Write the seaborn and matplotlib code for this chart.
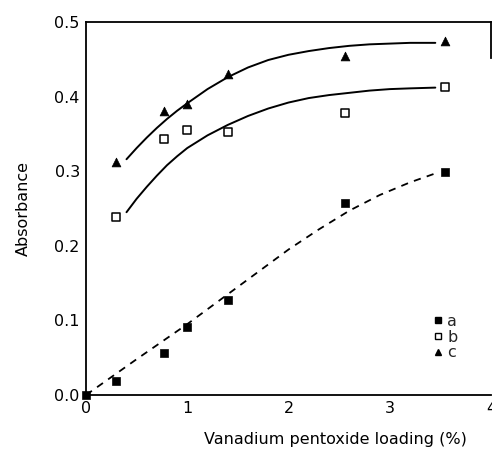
import matplotlib
matplotlib.use("Agg")
import matplotlib.pyplot as plt
import seaborn as sns
import pandas as pd
from matplotlib.lines import Line2D

sns.set_theme(style="white")
plt.rcParams['font.family'] = ['DejaVu Sans']

# measured points
loading = [0.0, 0.30, 0.77, 1.0, 1.40, 2.56, 3.55]
abs_a = [0.0, 0.019, 0.056, 0.091, 0.127, 0.257, 0.299]
loading_bc = [0.30, 0.77, 1.0, 1.40, 2.56, 3.55]
abs_b = [0.238, 0.343, 0.355, 0.352, 0.378, 0.413]
abs_c = [0.312, 0.380, 0.390, 0.430, 0.455, 0.475]

# fitted curves
curve_x_a = [0.0, 0.5, 1.0, 1.5, 2.0, 2.3, 2.6, 2.9, 3.2, 3.45]
curve_a = [0.0, 0.048, 0.095, 0.145, 0.195, 0.222, 0.247, 0.268, 0.285, 0.297]
curve_x_bc = [0.4, 0.5, 0.6, 0.7, 0.8, 0.9, 1.0, 1.2, 1.4, 1.6, 1.8, 2.0, 2.2,
              2.4, 2.6, 2.8, 3.0, 3.2, 3.45]
curve_b = [0.245, 0.263, 0.279, 0.294, 0.308, 0.320, 0.331, 0.348, 0.362, 0.374,
           0.384, 0.392, 0.398, 0.402, 0.405, 0.408, 0.410, 0.411, 0.412]
curve_c = [0.316, 0.331, 0.345, 0.358, 0.370, 0.381, 0.391, 0.410, 0.426, 0.439,
           0.449, 0.456, 0.461, 0.465, 0.468, 0.470, 0.471, 0.472, 0.472]

fig = plt.figure(figsize=(4.92, 4.5), dpi=100)
ax = fig.add_axes([0.1748, 0.1222, 0.8232, 0.829])

pa = pd.DataFrame({"x": loading, "y": abs_a})
pb = pd.DataFrame({"x": loading_bc, "y": abs_b})
pc = pd.DataFrame({"x": loading_bc, "y": abs_c})
ca = pd.DataFrame({"x": curve_x_a, "y": curve_a})
cb = pd.DataFrame({"x": curve_x_bc, "y": curve_b})
cc = pd.DataFrame({"x": curve_x_bc, "y": curve_c})

sns.lineplot(data=ca, x="x", y="y", ax=ax, color="black", lw=1.3, linestyle=(0, (4, 3.5)), sort=True)
sns.lineplot(data=cb, x="x", y="y", ax=ax, color="black", lw=1.4, sort=True)
sns.lineplot(data=cc, x="x", y="y", ax=ax, color="black", lw=1.4, sort=True)

sns.scatterplot(data=pa, x="x", y="y", ax=ax, marker="s", s=36, color="black", edgecolor="black", zorder=5, clip_on=False)
sns.scatterplot(data=pb, x="x", y="y", ax=ax, marker="s", s=36, facecolor="white", edgecolor="black", linewidth=1.1, zorder=5)
sns.scatterplot(data=pc, x="x", y="y", ax=ax, marker="^", s=40, color="black", edgecolor="black", zorder=5)

ax.set_xlim(0, 4)
ax.set_ylim(0, 0.5)
ax.set_xticks([0, 1, 2, 3, 4])
ax.set_xticklabels(["0", "1", "2", "3", "4"])
ax.set_yticks([0.0, 0.1, 0.2, 0.3, 0.4, 0.5])
ax.set_yticklabels(["0.0", "0.1", "0.2", "0.3", "0.4", "0.5"])
ax.tick_params(axis="both", direction="inout", length=5, width=1, color="black",
               labelsize=11.5, labelcolor="black", pad=2)

for s in ["left", "bottom", "top", "right"]:
    ax.spines[s].set_color("black")
    ax.spines[s].set_linewidth(1.3)
ax.spines["right"].set_bounds(0.452, 0.5)

ax.set_xlabel("Vanadium pentoxide loading (%)", fontsize=11.5, color="black")
ax.set_ylabel("Absorbance", fontsize=11.5, color="black")
ax.xaxis.set_label_coords(0.615, -0.1)
ax.yaxis.set_label_coords(-0.135, 0.5)

handles = [
    Line2D([], [], marker="s", color="black", linestyle="none", markersize=5),
    Line2D([], [], marker="s", markerfacecolor="white", markeredgecolor="black", linestyle="none", markersize=5),
    Line2D([], [], marker="^", color="black", linestyle="none", markersize=5),
]
ax.legend(handles, ["a", "b", "c"], frameon=False, loc="upper left",
          bbox_to_anchor=(0.833, 0.235), handletextpad=0.1, handlelength=1.0,
          labelspacing=0.05, fontsize=11.5, borderaxespad=0)

fig.savefig("out.png", dpi=100)
